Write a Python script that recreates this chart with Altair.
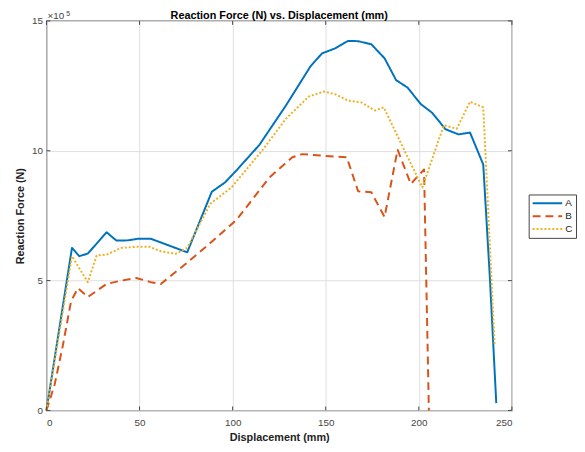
import altair as alt
import pandas as pd

# ---- data (force in units of 1e5 N) ----
series_names = ["A", "B", "C"]
series_colors = ["#0072BD", "#D95319", "#EDB120"]
series_dash = [[1, 0], [8, 5], [2, 2]]

a_x = [0, 13.7, 17.6, 22.2, 32.3, 37.6, 43.8, 49, 56.1, 75.6, 88.8, 95.9, 102,
       114.4, 128.6, 141.8, 148, 155, 162, 167.4, 174.5, 181.6, 187.8, 194,
       201, 207.2, 214.3, 221.3, 227.5, 234.6, 238.1, 241.6]
a_y = [0, 6.26, 5.94, 6.04, 6.86, 6.54, 6.55, 6.61, 6.61, 6.09, 8.42, 8.78, 9.24,
       10.23, 11.74, 13.25, 13.75, 13.94, 14.23, 14.22, 14.1, 13.56, 12.72, 12.43,
       11.8, 11.46, 10.83, 10.63, 10.7, 9.47, 5.19, 0.28]

b_x = [0, 4.4, 8.8, 13.2, 16.9, 22.2, 32.3, 40.2, 48.2, 56.1, 61.4, 75.6, 88,
       102, 119.7, 132.1, 137.4, 148, 161.3, 167.4, 174.5, 181.6, 188.6, 195.7,
       202.8, 205.4]
b_y = [0, 1.0, 2.5, 4.2, 4.71, 4.37, 4.87, 5.0, 5.1, 4.94, 4.87, 5.69, 6.45,
       7.33, 8.97, 9.75, 9.87, 9.81, 9.75, 8.44, 8.4, 7.45, 10.04, 8.72,
       9.28, 0]

c_x = [0, 13.7, 22.2, 27, 32.3, 40.2, 48.2, 55.3, 61.4, 69.4, 75.6, 88, 99.4,
       116.2, 128.6, 140.9, 148.9, 155, 162.1, 169.2, 176.3, 181.2, 190.4,
       201.9, 213.4, 220.4, 227.5, 234.6, 240.7]
c_y = [0, 5.94, 4.94, 5.97, 6.0, 6.26, 6.3, 6.3, 6.13, 6.03, 6.26, 7.96, 8.59,
       10.04, 11.23, 12.09, 12.28, 12.18, 11.93, 11.86, 11.55, 11.67, 10.29,
       8.59, 10.98, 10.85, 11.89, 11.67, 2.54]

x_ticks = [0, 50, 100, 150, 200, 250]
y_ticks = [0, 5, 10, 15]
exponent_base = ["×10"]
exponent_power = ["5"]

title_text = ["Reaction Force (N) vs. Displacement (mm)"]
x_title = "Displacement (mm)"
y_title = "Reaction Force (N)"

# ---- build table ----
rows = []
for name, xs, ys in zip(series_names, [a_x, b_x, c_x], [a_y, b_y, c_y]):
    for i, (xv, yv) in enumerate(zip(xs, ys)):
        rows.append({"series": name, "x": xv, "y": yv, "order": i})
df = pd.DataFrame(rows)

FONT = "Liberation Sans"
W, H = 472, 395

xscale = alt.Scale(domain=[0, 250], nice=False, zero=False)
yscale = alt.Scale(domain=[0, 15], nice=False, zero=False)
xaxis = alt.Axis(values=x_ticks, ticks=False, domain=False, labelPadding=7,
                 titlePadding=4, grid=True)
yaxis = alt.Axis(values=y_ticks, ticks=False, domain=False, labelPadding=4,
                 titlePadding=6, grid=True)


def X():
    return alt.X("x:Q", scale=xscale, title=x_title, axis=xaxis)


def Y():
    return alt.Y("y:Q", scale=yscale, title=y_title, axis=yaxis)


lines = alt.Chart(df).mark_line(strokeWidth=2, strokeJoin="round").encode(
    x=X(), y=Y(),
    color=alt.Color("series:N", title=None,
                    scale=alt.Scale(domain=series_names, range=series_colors)),
    strokeDash=alt.StrokeDash("series:N", title=None,
                              scale=alt.Scale(domain=series_names, range=series_dash)),
    order="order:Q",
)

xt = pd.DataFrame({"x": x_ticks})
yt = pd.DataFrame({"y": y_ticks})
tick_style = dict(color="#444", strokeWidth=1)

xt_bottom = alt.Chart(xt).mark_rule(**tick_style).encode(
    x=X(), y=alt.value(H), y2=alt.value(H - 4))
xt_top = alt.Chart(xt).mark_rule(**tick_style).encode(
    x=X(), y=alt.value(0), y2=alt.value(4))
yt_left = alt.Chart(yt).mark_rule(**tick_style).encode(
    y=Y(), x=alt.value(0), x2=alt.value(4))
yt_right = alt.Chart(yt).mark_rule(**tick_style).encode(
    y=Y(), x=alt.value(W), x2=alt.value(W - 4))

exp_base = alt.Chart(pd.DataFrame({"t": exponent_base})).mark_text(
    align="left", baseline="alphabetic", fontSize=10, font=FONT, color="#444"
).encode(x=alt.value(1), y=alt.value(-2), text="t:N")
exp_pow = alt.Chart(pd.DataFrame({"t": exponent_power})).mark_text(
    align="left", baseline="alphabetic", fontSize=7, font=FONT, color="#444"
).encode(x=alt.value(20), y=alt.value(-5), text="t:N")
title_mark = alt.Chart(pd.DataFrame({"t": title_text})).mark_text(
    align="center", baseline="alphabetic", fontSize=11, fontWeight="bold", font=FONT,
    color="black"
).encode(x=alt.value(W / 2), y=alt.value(-2), text="t:N")

chart = alt.layer(lines, xt_bottom, xt_top, yt_left, yt_right,
                  exp_base, exp_pow, title_mark).properties(
    width=W, height=H,
    autosize=alt.AutoSizeParams(type="none"),
    padding={"left": 39, "top": 10, "right": 66, "bottom": 36},
).configure_view(
    stroke="#555", strokeWidth=1.2
).configure_axis(
    labelFont=FONT, labelFontSize=10, labelColor="#444",
    titleFont=FONT, titleFontSize=11, titleFontWeight="bold", titleColor="#222",
    gridColor="#dedede", gridWidth=1,
).configure_legend(
    orient="none", legendX=489, legendY=176,
    symbolType="stroke", symbolSize=900, symbolStrokeWidth=2, clipHeight=12,
    labelFont=FONT, labelFontSize=10, labelColor="#222", labelOffset=2,
    strokeColor="#444", fillColor="white", padding=3, cornerRadius=0,
    rowPadding=1,
)

chart.save("out.html", embed_options={"renderer": "svg", "actions": False})
